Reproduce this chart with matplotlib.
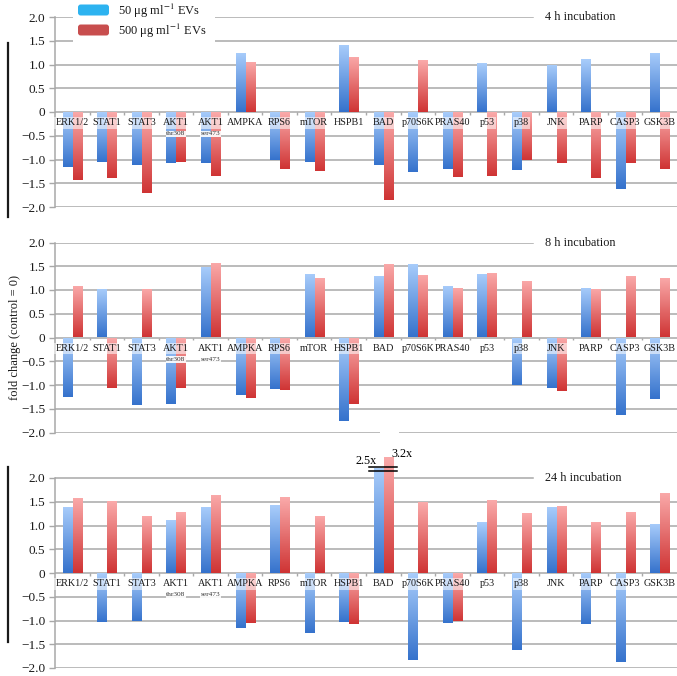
import numpy as np
import matplotlib
matplotlib.use("Agg")
import matplotlib.pyplot as plt
from matplotlib.colors import LinearSegmentedColormap
from matplotlib.patches import Rectangle, FancyBboxPatch
from matplotlib.lines import Line2D

plt.rcParams['font.family'] = ['Liberation Serif', 'DejaVu Serif']
plt.rcParams['mathtext.fontset'] = 'stix'

# categories (two AKT1 sites get a small sub label)
categories = ["ERK1/2", "STAT1", "STAT3", "AKT1", "AKT1", "AMPKA", "RPS6", "mTOR", "HSPB1",
              "BAD", "p70S6K", "PRAS40", "p53", "p38", "JNK", "PARP", "CASP3", "GSK3B"]
subLabels = ["", "", "", "thr308", "ser473", "", "", "", "",
             "", "", "", "", "", "", "", "", ""]

# fold change values, 50 ug/ml (blue) and 500 ug/ml (red)
blue4h = [-1.15, -1.05, -1.11, -1.08, -1.08, 1.25, -1.01, -1.06, 1.42,
          -1.12, -1.26, -1.21, 1.03, -1.22, 1.00, 1.11, -1.63, 1.25]
red4h = [-1.44, -1.38, -1.70, -1.06, -1.34, 1.06, -1.20, -1.25, 1.16,
         -1.85, 1.09, -1.37, -1.34, -1.02, -1.08, -1.38, -1.08, -1.20]

blue8h = [-1.25, 1.02, -1.42, -1.40, 1.48, -1.21, -1.09, 1.33, -1.75,
          1.29, 1.54, 1.09, 1.33, -1.00, -1.06, 1.05, -1.63, -1.29]
red8h = [1.09, -1.07, 1.03, -1.07, 1.56, -1.28, -1.10, 1.26, -1.41,
         1.55, 1.32, 1.05, 1.35, 1.20, -1.12, 1.02, 1.29, 1.25]

blue24h = [1.39, -1.03, -1.00, 1.12, 1.39, -1.15, 1.43, -1.26, -1.04,
           2.5, -1.83, -1.06, 1.07, -1.62, 1.39, -1.08, -1.87, 1.04]
red24h = [1.58, 1.51, 1.21, 1.28, 1.65, -1.06, 1.60, 1.21, -1.08,
          3.2, 1.49, -1.01, 1.53, 1.26, 1.42, 1.08, 1.29, 1.69]

panelTitles = ["4 h incubation", "8 h incubation", "24 h incubation"]
yTickValues = [-2.0, -1.5, -1.0, -0.5, 0, 0.5, 1.0, 1.5, 2.0]
yTickLabels = ["\u22122.0", "\u22121.5", "\u22121.0", "\u22120.5", "0", "0.5", "1.0", "1.5", "2.0"]

# bars off the scale are cut at these heights (blue, red)
blueCap = 2.22
redCap = 2.44

W, H = 677, 676
gridColor = "#a8a8a8"
blueMap = LinearSegmentedColormap.from_list("blueBar", ["#3572cc", "#a9cdfb"])
redMap = LinearSegmentedColormap.from_list("redBar", ["#cf3434", "#faaaaa"])
gradient = np.linspace(0, 1, 128).reshape(-1, 1)


def px(x, y):
    return x / W, 1 - y / H


def GradientBar(ax, x, value, width, cmap):
    bottom = min(0, value)
    top = max(0, value)
    rect = Rectangle((x - width / 2, bottom), width, top - bottom, facecolor="none", edgecolor="none")
    ax.add_patch(rect)
    im = ax.imshow(gradient, cmap=cmap, origin="lower", aspect="auto", interpolation="bilinear",
                   extent=(x - width / 2, x + width / 2, bottom, top), zorder=2)
    im.set_clip_path(rect)


def DrawPanel(ax, blueValues, redValues, title, yTop, bottomGap=None):
    n = len(categories)
    for yv in yTickValues:
        if yv == 2.0:
            ax.axhline(yv, xmin=0, xmax=0.768, color=gridColor, lw=1.1, zorder=1)
        elif yv == -2.0 and bottomGap is not None:
            ax.hlines(yv, -0.5, bottomGap[0], color=gridColor, lw=1.1, zorder=1)
            ax.hlines(yv, bottomGap[1], n - 0.5, color=gridColor, lw=1.1, zorder=1)
        else:
            ax.axhline(yv, color=gridColor, lw=1.1, zorder=1)
    # little ticks on the zero line between groups
    ax.vlines(np.arange(n - 1) + 0.5, -0.06, 0, color=gridColor, lw=1.0, zorder=1)

    blueShown = np.minimum(blueValues, blueCap)
    redShown = np.minimum(redValues, redCap)
    for i in range(n):
        GradientBar(ax, i - 0.14, blueShown[i], 0.27, blueMap)
        GradientBar(ax, i + 0.15, redShown[i], 0.27, redMap)

    for i, name in enumerate(categories):
        ax.text(i, -0.23, name, ha="center", va="center", fontsize=7.3, color="#1a1a1a", zorder=4,
                bbox=dict(boxstyle="square,pad=0.12", facecolor="white", edgecolor="none", alpha=0.55))
        if subLabels[i]:
            ax.text(i, -0.46, subLabels[i], ha="center", va="center", fontsize=5.3, color="#333333",
                    zorder=4, bbox=dict(boxstyle="square,pad=0.1", facecolor="white", edgecolor="none", alpha=0.9))

    ax.text(0.788, 2.0, title, transform=ax.get_yaxis_transform(), ha="left", va="center",
            fontsize=8.8, color="#1a1a1a")

    ax.set_xlim(-0.5, n - 0.5)
    ax.set_ylim(-2.0, yTop)
    for side in ["top", "right", "bottom"]:
        ax.spines[side].set_visible(False)
    ax.spines["left"].set_bounds(-2.0, 2.0)
    ax.spines["left"].set_color(gridColor)
    ax.spines["left"].set_linewidth(1.1)
    ax.set_xticks([])
    ax.set_yticks(yTickValues)
    ax.set_yticklabels(yTickLabels)
    ax.tick_params(axis="y", length=4, width=1.0, color=gridColor, labelsize=9.5, labelcolor="#1a1a1a", pad=3)
    ax.patch.set_visible(False)


fig = plt.figure(figsize=(W / 100, H / 100), dpi=100)
unit = 47.5 / H
left, right = px(55, 0)[0], 1.0

axTop = fig.add_axes([left, px(0, 207)[1], right - left, 4 * unit])
axMid = fig.add_axes([left, px(0, 432.5)[1], right - left, 4 * unit])
axBot = fig.add_axes([left, px(0, 668)[1], right - left, 4.5 * unit])

DrawPanel(axTop, blue4h, red4h, panelTitles[0], 2.0)
DrawPanel(axMid, blue8h, red8h, panelTitles[1], 2.0, bottomGap=(8.91, 9.46))
DrawPanel(axBot, blue24h, red24h, panelTitles[2], 2.5)

# break marks and real values for BAD at 24 h
badIndex = categories.index("BAD")
for yb in [2.23, 2.15]:
    axBot.plot([badIndex - 0.41, badIndex + 0.4], [yb, yb], color="black", lw=1.1, zorder=5, clip_on=False)
axBot.text(badIndex - 0.18, 2.36, f"{blue24h[badIndex]}x", ha="right", va="center", fontsize=8.8, clip_on=False)
axBot.text(badIndex + 0.23, 2.5, f"{red24h[badIndex]}x", ha="left", va="center", fontsize=8.8, clip_on=False)

# legend box on top of the first panel
x0, y0 = px(73, 0)
x1, y1 = px(215, 42)
fig.add_artist(Rectangle((x0, y1), x1 - x0, y0 - y1, transform=fig.transFigure,
                         facecolor="white", edgecolor="none", zorder=3))
for yc, color, label in [(10, "#2db3f0", "50 \u03bcg ml$^{-1}$ EVs"), (30, "#c84e4e", "500 \u03bcg ml$^{-1}$ EVs")]:
    bx, by = px(78, yc + 5.5)
    fig.add_artist(FancyBboxPatch((bx, by), 31 / W, 11 / H, boxstyle="round,pad=0,rounding_size=0.004",
                                  transform=fig.transFigure, facecolor=color, edgecolor="none", zorder=4))
    tx, ty = px(118, yc + 1)
    fig.text(tx, ty, label, ha="left", va="center", fontsize=9, color="#1a1a1a", zorder=5)

# y axis title and the black side bars
lx, ly = px(15, 338)
fig.text(lx, ly, "fold change (control = 0)", rotation=90, ha="center", va="center", fontsize=9, color="#1a1a1a")
for yStart, yEnd in [(43, 217), (467, 642)]:
    fig.add_artist(Line2D([8 / W, 8 / W], [px(0, yStart)[1], px(0, yEnd)[1]], color="#1a1a1a", lw=1.6))

fig.savefig("out.png", dpi=100)
